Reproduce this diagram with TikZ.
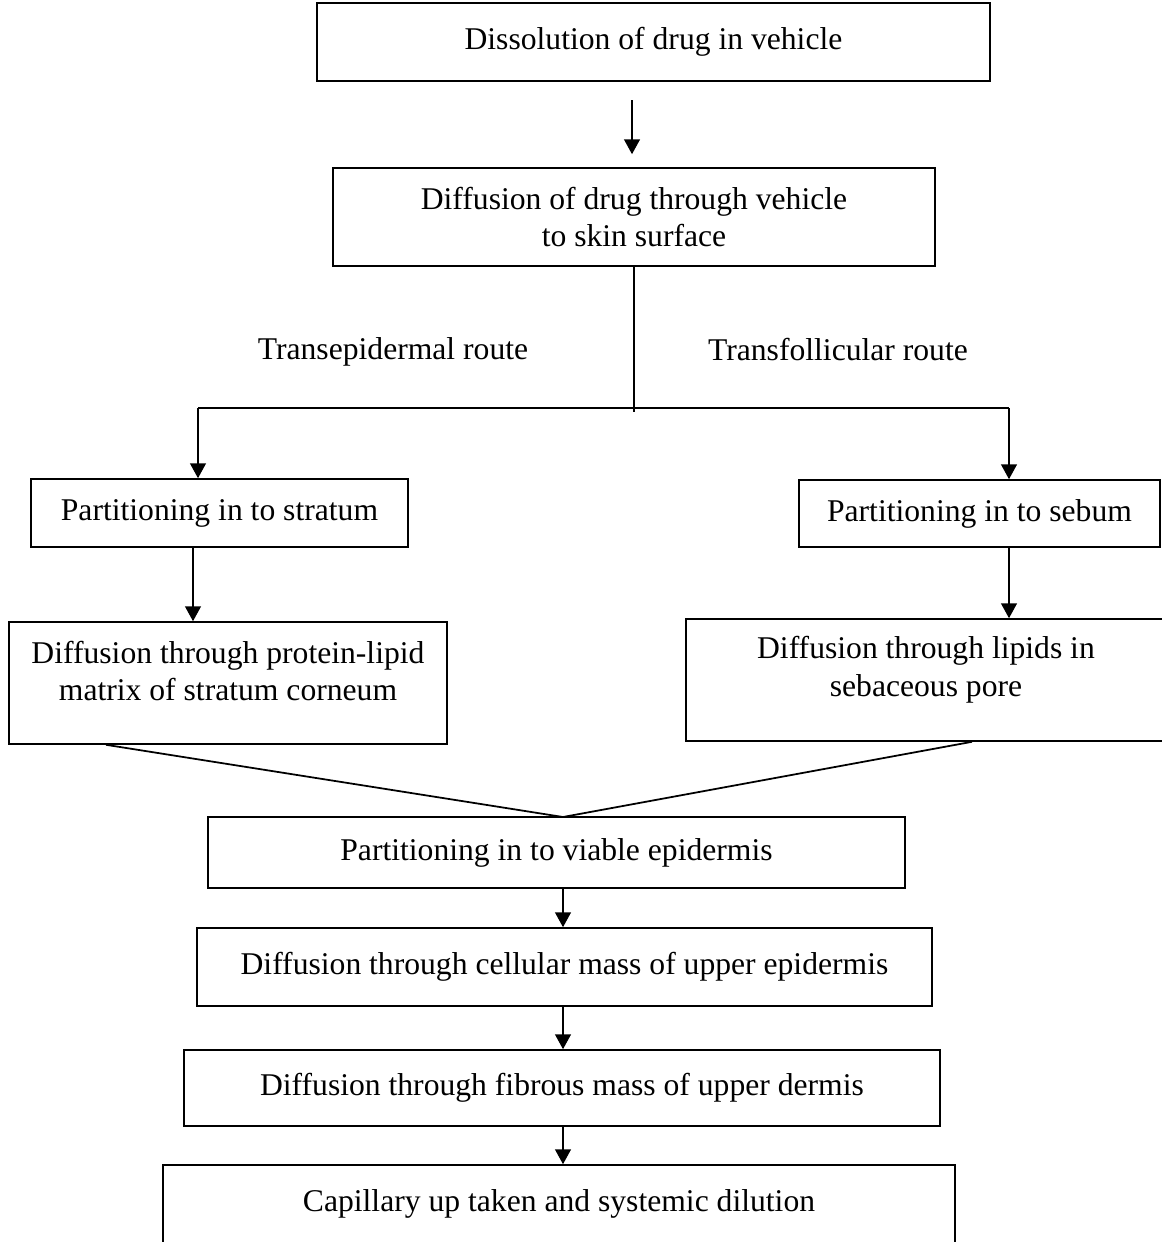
\documentclass[tikz,border=0pt]{standalone}
\usepackage{fontspec}
\setmainfont{Liberation Serif}
\usetikzlibrary{arrows.meta,calc}

\begin{document}
\begin{tikzpicture}[font=\fontsize{18}{21.5}\selectfont]

\tikzset{
  pbox/.style={draw, line width=0.9pt, align=center, inner sep=0pt},
  ptext/.style={align=center, inner sep=0pt},
  flow/.style={-{Triangle[length=8.5pt, width=9pt]}, line width=1.1pt},
  link/.style={line width=1pt},
  route/.style={inner sep=0pt}}

% page frame (the lowest and the right-hand boxes run past it)
\useasboundingbox (0,0) rectangle (23.24,-24.84);
\clip (0,0) rectangle (23.24,-24.84);

% drug in the vehicle
\node[pbox, minimum width=13.46cm, minimum height=1.56cm] (dis) at (13.07,-0.84) {Dissolution of drug in vehicle};
\node[pbox, minimum width=12.04cm, minimum height=1.96cm] (vd) at (12.68,-4.34) {Diffusion of drug through vehicle\\to skin surface};
\coordinate (topx) at (12.64,-2.0);
\draw[flow] (topx) -- ([yshift=0.26cm]topx |- vd.north);

% split into the two routes
\coordinate (brL) at (3.96,-8.16);
\coordinate (brR) at (20.18,-8.16);
\draw[link] (vd.south) -- ([yshift=-0.08cm]vd.south |- brL);
\draw[link] (brL) -- (brR);
\node[route] (tep) at (7.86,-7.04) {Transepidermal route};
\node[route] (tfo) at (16.76,-7.00) {Transfollicular route};

% transepidermal side
\node[pbox, minimum width=7.54cm, minimum height=1.36cm] (pst) at (4.39,-10.26) {Partitioning in to stratum};
\node[pbox, minimum width=8.76cm, minimum height=2.44cm] (dpl) at (4.56,-13.66) {};
\node[ptext] (dpltxt) at (4.56,-13.42) {Diffusion through protein-lipid\\matrix of stratum corneum};
\draw[flow] (brL) -- (brL |- pst.north);
\draw[flow] ([xshift=-0.53cm]pst.south) -- ([xshift=-0.53cm]pst.south |- dpl.north);

% transfollicular side
\node[pbox, minimum width=7.22cm, minimum height=1.34cm] (pse) at (19.59,-10.27) {Partitioning in to sebum};
\node[pbox, minimum width=9.60cm, minimum height=2.44cm] (dsp) at (18.52,-13.60) {};
\node[ptext] (dsptxt) at (18.52,-13.40) {Diffusion through lipids in\\sebaceous pore};
\draw[flow] (brR) -- (brR |- pse.north);
\draw[flow] (brR |- pse.south) -- (brR |- dsp.north);

% both routes meet again
\node[pbox, minimum width=13.94cm, minimum height=1.42cm] (pve) at (11.13,-17.05) {Partitioning in to viable epidermis};
\coordinate (mg) at (11.26,-16.34);
\draw[link] ([xshift=-2.44cm]dpl.south) -- (mg) -- ([xshift=0.92cm]dsp.south);

% down through the skin
\node[pbox, minimum width=14.70cm, minimum height=1.56cm] (dce) at (11.29,-19.34) {Diffusion through cellular mass of upper epidermis};
\node[pbox, minimum width=15.12cm, minimum height=1.52cm] (dfm) at (11.24,-21.76) {Diffusion through fibrous mass of upper dermis};
\node[pbox, minimum width=15.84cm, minimum height=1.56cm] (cap) at (11.18,-24.08) {Capillary up taken and systemic dilution};
\draw[flow] (mg |- pve.south) -- (mg |- dce.north);
\draw[flow] (mg |- dce.south) -- (mg |- dfm.north);
\draw[flow] (mg |- dfm.south) -- (mg |- cap.north);

\end{tikzpicture}
\end{document}
